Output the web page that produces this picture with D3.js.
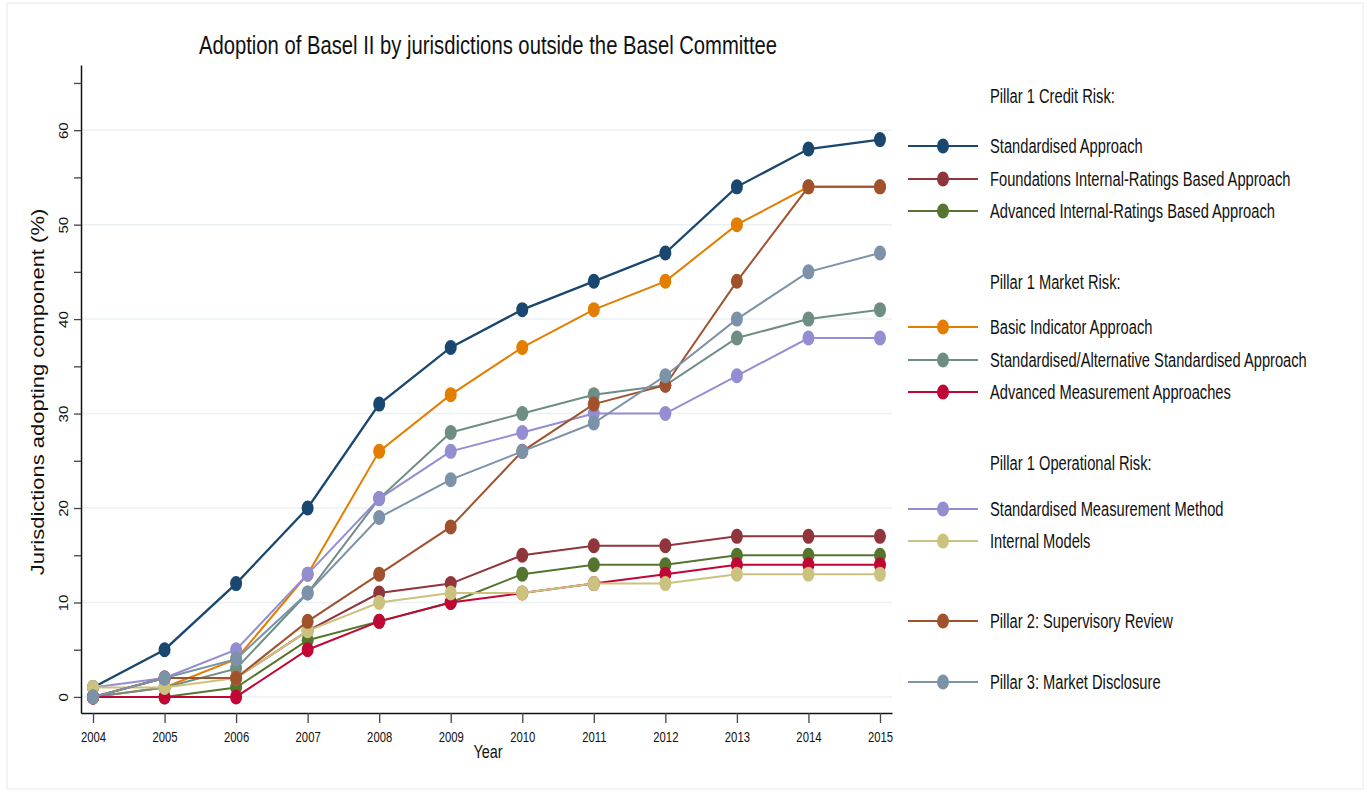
<!DOCTYPE html>
<html>
<head>
<meta charset="utf-8">
<script src="https://cdn.jsdelivr.net/npm/d3@7"></script>
<style>
  body { margin: 0; background: #fff; }
  svg { display: block; }
  text { font-family: "Liberation Sans", Arial, Helvetica, sans-serif; fill: #111; }
</style>
</head>
<body>
<svg width="1369" height="792"></svg>
<script>
const years = [2004, 2005, 2006, 2007, 2008, 2009, 2010, 2011, 2012, 2013, 2014, 2015]

const seriesNames = [
  "Standardised Approach",
  "Foundations Internal-Ratings Based Approach",
  "Advanced Internal-Ratings Based Approach",
  "Basic Indicator Approach",
  "Standardised/Alternative Standardised Approach",
  "Advanced Measurement Approaches",
  "Standardised Measurement Method",
  "Internal Models",
  "Pillar 2: Supervisory Review",
  "Pillar 3: Market Disclosure"
]

const standardised     = [1, 5, 12, 20, 31, 37, 41, 44, 47, 54, 58, 59]
const foundationsIRB   = [0, 2, 2, 7, 11, 12, 15, 16, 16, 17, 17, 17]
const advancedIRB      = [0, 0, 1, 6, 8, 10, 13, 14, 14, 15, 15, 15]
const basicIndicator   = [0, 1, 4, 13, 26, 32, 37, 41, 44, 50, 54, 54]
const stdAlternative   = [0, 1, 3, 11, 21, 28, 30, 32, 33, 38, 40, 41]
const advMeasurement   = [0, 0, 0, 5, 8, 10, 11, 12, 13, 14, 14, 14]
const stdMeasurement   = [1, 2, 5, 13, 21, 26, 28, 30, 30, 34, 38, 38]
const internalModels   = [1, 1, 2, 7, 10, 11, 11, 12, 12, 13, 13, 13]
const pillar2          = [0, 2, 2, 8, 13, 18, 26, 31, 33, 44, 54, 54]
const pillar3          = [0, 2, 4, 11, 19, 23, 26, 29, 34, 40, 45, 47]

const seriesValues = [standardised, foundationsIRB, advancedIRB, basicIndicator, stdAlternative,
  advMeasurement, stdMeasurement, internalModels, pillar2, pillar3]

// stata s2color palette
const colors = ["#1a476f", "#90353b", "#55752f", "#e37e00", "#6e8e84",
  "#c10534", "#938dd2", "#cac27e", "#a0522d", "#7b92a8"]

const yTicks = d3.range(0, 70, 5)

// legend rows: headers and items (item = index into seriesNames)
const legendRows = [
  {header: "Pillar 1 Credit Risk:", y: 96},
  {item: 0, y: 146}, {item: 1, y: 179}, {item: 2, y: 211},
  {header: "Pillar 1 Market Risk:", y: 282},
  {item: 3, y: 327}, {item: 4, y: 360}, {item: 5, y: 392},
  {header: "Pillar 1 Operational Risk:", y: 463},
  {item: 6, y: 509}, {item: 7, y: 541},
  {item: 8, y: 621},
  {item: 9, y: 682}
]

const svg = d3.select('svg')

// the original picture is squeezed sideways, so text gets a horizontal scale
function squeezedText(parent, x, y, str, size, sx) {
  return parent.append('g')
    .attr('transform', `translate(${x},${y}) scale(${sx},1)`)
    .append('text')
    .attr('font-size', size)
    .text(str)
}

// faint outer frame
svg.append('rect')
  .attr('x', 7).attr('y', 3).attr('width', 1356).attr('height', 786)
  .attr('fill', 'none').attr('stroke', '#f0f0f0').attr('stroke-width', 1.5)

const xScale = d3.scaleLinear()
  .domain([2003.832, 2015.168])
  .range([81, 892])
const yScale = d3.scaleLinear()
  .domain([-1.7, 66.9])
  .range([713, 65])

// gridlines
svg.append('g')
  .selectAll('line')
  .data(d3.range(0, 70, 10))
  .join('line')
  .attr('x1', 81).attr('x2', 892)
  .attr('y1', d => yScale(d)).attr('y2', d => yScale(d))
  .attr('stroke', '#eaf0f3').attr('stroke-width', 1.5)

// y axis
const yAxis = d3.axisLeft(yScale)
  .tickValues(yTicks)
  .tickSize(7)
  .tickSizeOuter(0)
  .tickFormat(d => d % 10 === 0 ? d : '')
const yG = svg.append('g')
  .attr('transform', 'translate(81,0)')
  .call(yAxis)
yG.select('.domain').attr('stroke', '#111').attr('stroke-width', 1.5)
yG.selectAll('.tick line').attr('stroke', '#444').attr('stroke-width', 1.3)
yG.selectAll('.tick text')
  .attr('x', 0).attr('dy', 0)
  .attr('transform', 'translate(-13,0) rotate(-90) scale(1,0.81)')
  .attr('text-anchor', 'middle')
  .attr('font-family', '"Liberation Sans", Arial, sans-serif')
  .attr('font-size', 15)
  .attr('fill', '#111')

// x axis
const xAxis = d3.axisBottom(xScale)
  .tickValues(years)
  .tickFormat(d3.format('d'))
  .tickSize(10)
  .tickSizeOuter(0)
  .tickPadding(9)
const xG = svg.append('g')
  .attr('transform', 'translate(0,713)')
  .call(xAxis)
xG.select('.domain').attr('stroke', '#111').attr('stroke-width', 1.5)
xG.selectAll('.tick line').attr('stroke', '#444').attr('stroke-width', 1.3)
xG.selectAll('.tick text')
  .attr('transform', 'scale(0.78,1)')
  .attr('font-family', '"Liberation Sans", Arial, sans-serif')
  .attr('font-size', 14.5)
  .attr('fill', '#111')

// series
const line = d3.line()
  .x((d, i) => xScale(years[i]))
  .y(d => yScale(d))

const seriesG = svg.append('g')
seriesValues.forEach((vals, k) => {
  const g = seriesG.append('g')
  g.append('path')
    .attr('d', line(vals))
    .attr('fill', 'none')
    .attr('stroke', colors[k])
    .attr('stroke-width', k === 0 ? 2.3 : 2)
  g.selectAll('ellipse')
    .data(vals)
    .join('ellipse')
    .attr('cx', (d, i) => xScale(years[i]))
    .attr('cy', d => yScale(d))
    .attr('rx', 6)
    .attr('ry', 7.5)
    .attr('fill', colors[k])
})

// title and axis titles
squeezedText(svg, 488, 54, 'Adoption of Basel II by jurisdictions outside the Basel Committee', 25, 0.81)
  .attr('text-anchor', 'middle')

squeezedText(svg, 488, 758, 'Year', 19, 0.76)
  .attr('text-anchor', 'middle')

svg.append('text')
  .attr('transform', 'translate(38,392) rotate(-90) scale(1,0.81)')
  .attr('text-anchor', 'middle')
  .attr('dy', '0.35em')
  .attr('font-size', 22)
  .text('Jurisdictions adopting component (%)')

// legend
const legend = svg.append('g')
legendRows.forEach(r => {
  if (r.header) {
    squeezedText(legend, 990, r.y, r.header, 21, 0.70).attr('dy', '0.35em')
  } else {
    const c = colors[r.item]
    legend.append('line')
      .attr('x1', 908).attr('x2', 978)
      .attr('y1', r.y).attr('y2', r.y)
      .attr('stroke', c).attr('stroke-width', 2)
    legend.append('ellipse')
      .attr('cx', 943).attr('cy', r.y)
      .attr('rx', 6).attr('ry', 7.5)
      .attr('fill', c)
    squeezedText(legend, 990, r.y, seriesNames[r.item], 21, 0.70).attr('dy', '0.35em')
  }
})
</script>
</body>
</html>
